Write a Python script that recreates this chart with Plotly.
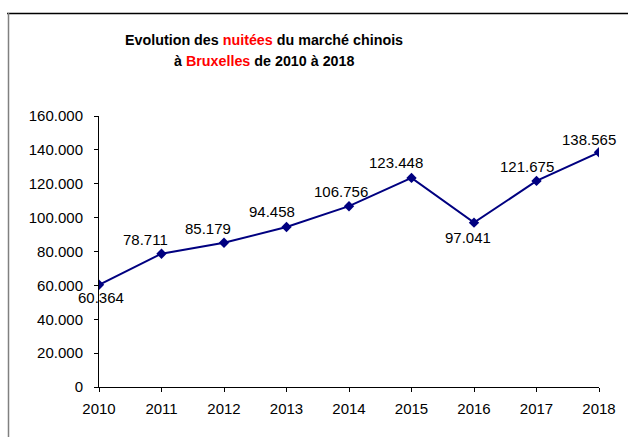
import plotly.graph_objects as go

years = [2010, 2011, 2012, 2013, 2014, 2015, 2016, 2017, 2018]
nuitees = [60364, 78711, 85179, 94458, 106756, 123448, 97041, 121675, 138565]
y_ticks = [0, 20000, 40000, 60000, 80000, 100000, 120000, 140000, 160000]

# label offsets (pixels) - styling only
label_dx = [2, -16, -16, -15, -8, -16, -6, -10, -10]
label_dy = [-13, 14, 14, 16, 15, 15, -15, 14, 13]

FONT = "Arial, Liberation Sans, sans-serif"
W, H = 628, 437
L, R, T, B = 99, 29, 116, 50
PW, PH = W - L - R, H - T - B


def px_x(px):
    return (px - L) / PW


def px_y(py):
    return (H - B - py) / PH


def fmt(v):
    return f"{v:,}".replace(",", ".")


fig = go.Figure()
fig.add_trace(go.Scatter(
    x=years, y=nuitees, mode="lines+markers",
    line=dict(color="#000080", width=2),
    marker=dict(symbol="diamond", size=8, color="#000080"),
    hoverinfo="skip", showlegend=False,
))

annotations = []
for x, v, dx, dy in zip(years, nuitees, label_dx, label_dy):
    annotations.append(dict(
        x=x, y=v, xref="x", yref="y", text=fmt(v), showarrow=False,
        xshift=dx, yshift=dy, font=dict(family=FONT, size=15, color="#000000"),
        xanchor="center", yanchor="middle",
    ))

TFS = 14.3
annotations.append(dict(
    x=px_x(264), y=px_y(40), xref="paper", yref="paper", showarrow=False,
    text="<b>Evolution des <span style='color:#ff0000'>nuitées</span> du marché chinois</b>",
    font=dict(family=FONT, size=TFS, color="#000000"), xanchor="center", yanchor="middle",
))
annotations.append(dict(
    x=px_x(264), y=px_y(61), xref="paper", yref="paper", showarrow=False,
    text="<b>à <span style='color:#ff0000'>Bruxelles</span> de 2010 à 2018</b>",
    font=dict(family=FONT, size=TFS, color="#000000"), xanchor="center", yanchor="middle",
))

shapes = [
    dict(type="line", xref="paper", yref="paper", x0=px_x(7), x1=px_x(630), y0=px_y(13.5), y1=px_y(13.5),
         line=dict(color="#000000", width=1.5)),
    dict(type="line", xref="paper", yref="paper", x0=px_x(8.5), x1=px_x(8.5), y0=px_y(13), y1=px_y(440),
         line=dict(color="#808080", width=1.5)),
]

fig.update_layout(
    width=W, height=H,
    margin=dict(l=L, r=R, t=T, b=B),
    paper_bgcolor="white", plot_bgcolor="white",
    separators=",.",
    font=dict(family=FONT, size=15, color="#000000"),
    annotations=annotations, shapes=shapes,
    xaxis=dict(range=[2010, 2018], tickvals=years, ticktext=[str(y) for y in years],
               showgrid=False, zeroline=False, showline=True, linecolor="#000000", linewidth=1,
               ticks="outside", ticklen=4, tickcolor="#000000", ticklabelstandoff=4,
               tickfont=dict(family=FONT, size=15, color="#000000")),
    yaxis=dict(range=[0, 160000], tickvals=y_ticks, ticktext=[fmt(v) for v in y_ticks],
               showgrid=False, zeroline=False, showline=True, linecolor="#000000", linewidth=1,
               ticks="outside", ticklen=4, tickcolor="#000000", ticklabelstandoff=8,
               tickfont=dict(family=FONT, size=15, color="#000000")),
)

fig.write_html(
    "out.html",
    config={"displayModeBar": False},
    post_script="document.body.style.margin='0';document.body.style.overflow='hidden';",
)
